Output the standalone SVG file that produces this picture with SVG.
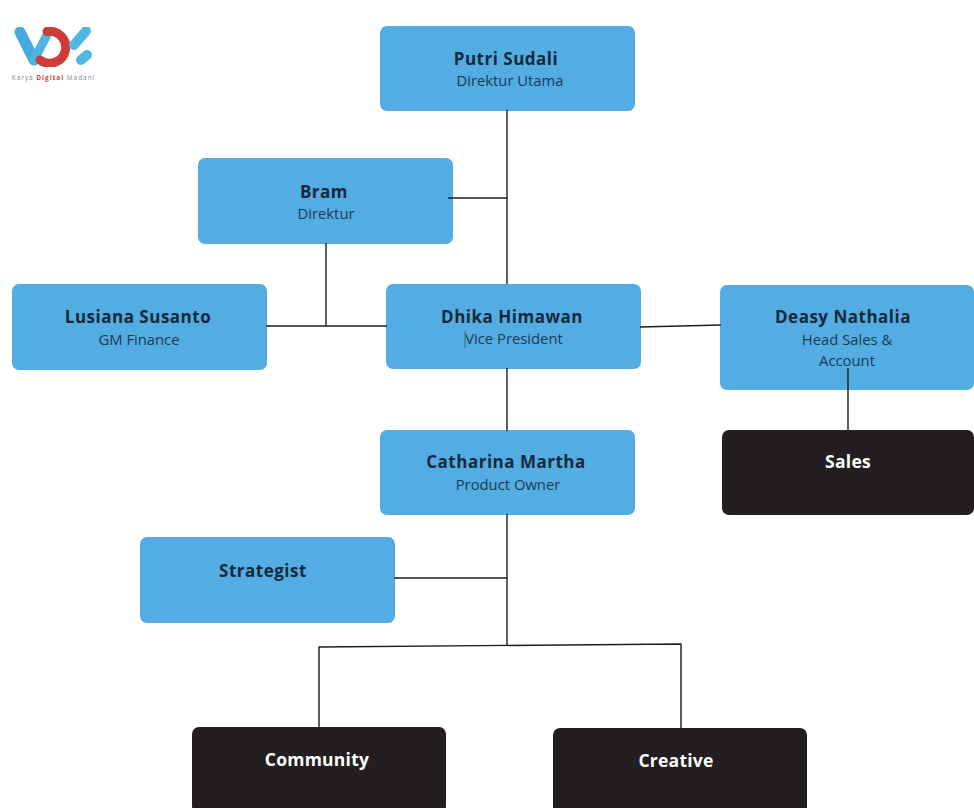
<svg xmlns="http://www.w3.org/2000/svg" width="974" height="808" viewBox="0 0 974 808">
<defs><filter id="soft" x="-10%" y="-10%" width="120%" height="120%"><feGaussianBlur stdDeviation="0.6"/></filter></defs>
<style>
text{font-family:"Open Sans","Noto Sans",sans-serif;text-anchor:middle}
.b{fill:#53ade2}.k{fill:#231f20}
.n{font-size:17px;font-weight:700;fill:#15293d;letter-spacing:.5px}
.s{font-size:14.8px;fill:#1d3a55}
.w{font-size:17.5px;font-weight:700;fill:#fff;letter-spacing:.25px}
#connectors path{fill:none;stroke:#1c1c1c;stroke-width:1.4}
</style>
<rect width="974" height="808" fill="#fff"/>
<g id="logo">
<g filter="url(#soft)" fill="none" stroke-linecap="round">
<path d="M20 32 L34 60" stroke="#45ace0" stroke-width="11"/>
<path d="M34 60 L47 35" stroke="#4fb4e4" stroke-width="9"/>
<path d="M47 31.500 A16 16 0 1 1 40 60" stroke="#cf3a37" stroke-width="9"/>
<path d="M74 45 L86 31" stroke="#50b9e3" stroke-width="10"/>
<path d="M81 60 L87 55" stroke="#50b9e3" stroke-width="10"/>
</g>
<text x="53.500" y="80" style="font-size:6.500px;fill:#7f8a96;letter-spacing:.95px">Karya <tspan style="font-weight:700;fill:#c8474a">Digital</tspan> Madani</text>
</g>
<g id="putri"><rect class="b" x="380" y="26" width="255" height="85" rx="7"/><text class="n" x="506" y="65">Putri Sudali</text><text class="s" x="510" y="86">Direktur Utama</text></g>
<g id="bram"><rect class="b" x="198" y="158" width="255" height="86" rx="7"/><text class="n" x="324" y="198">Bram</text><text class="s" x="326" y="219">Direktur</text></g>
<g id="lusiana"><rect class="b" x="12" y="284" width="255" height="86" rx="7"/><text class="n" x="138" y="323">Lusiana Susanto</text><text class="s" x="139" y="345">GM Finance</text></g>
<g id="dhika"><rect class="b" x="386" y="284" width="255" height="85" rx="7"/><text class="n" x="512" y="323">Dhika Himawan</text><text class="s" x="514" y="344">Vice President</text><path d="M465 331V348" stroke="#4a6274" stroke-width="1"/></g>
<g id="deasy"><rect class="b" x="720" y="285" width="254" height="105" rx="7"/><text class="n" x="843" y="323">Deasy Nathalia</text><text class="s" x="847" y="345">Head Sales &amp;</text><text class="s" x="847" y="366">Account</text></g>
<g id="sales"><rect class="k" x="722" y="430" width="252" height="85" rx="7"/><text class="w" x="848" y="468">Sales</text></g>
<g id="catharina"><rect class="b" x="380" y="430" width="255" height="85" rx="7"/><text class="n" x="506" y="468">Catharina Martha</text><text class="s" x="508" y="490">Product Owner</text></g>
<g id="strategist"><rect class="b" x="140" y="537" width="255" height="86" rx="7"/><text class="n" x="263" y="577">Strategist</text></g>
<g id="community"><rect class="k" x="192" y="727" width="254" height="86" rx="7"/><text class="w" x="317" y="766">Community</text></g>
<g id="creative"><rect class="k" x="553" y="728" width="254" height="86" rx="7"/><text class="w" x="676" y="767">Creative</text></g>
<g id="connectors">
<path d="M507 110V284"/>
<path d="M448 198H507"/>
<path d="M326 243V326"/>
<path d="M266 326H387"/>
<path d="M640 327L721 325"/>
<path d="M848 368V431"/>
<path d="M507 368V431"/>
<path d="M507 514V645"/>
<path d="M394 578H507"/>
<path d="M319 728V647L681 644V729"/>
</g>
</svg>
